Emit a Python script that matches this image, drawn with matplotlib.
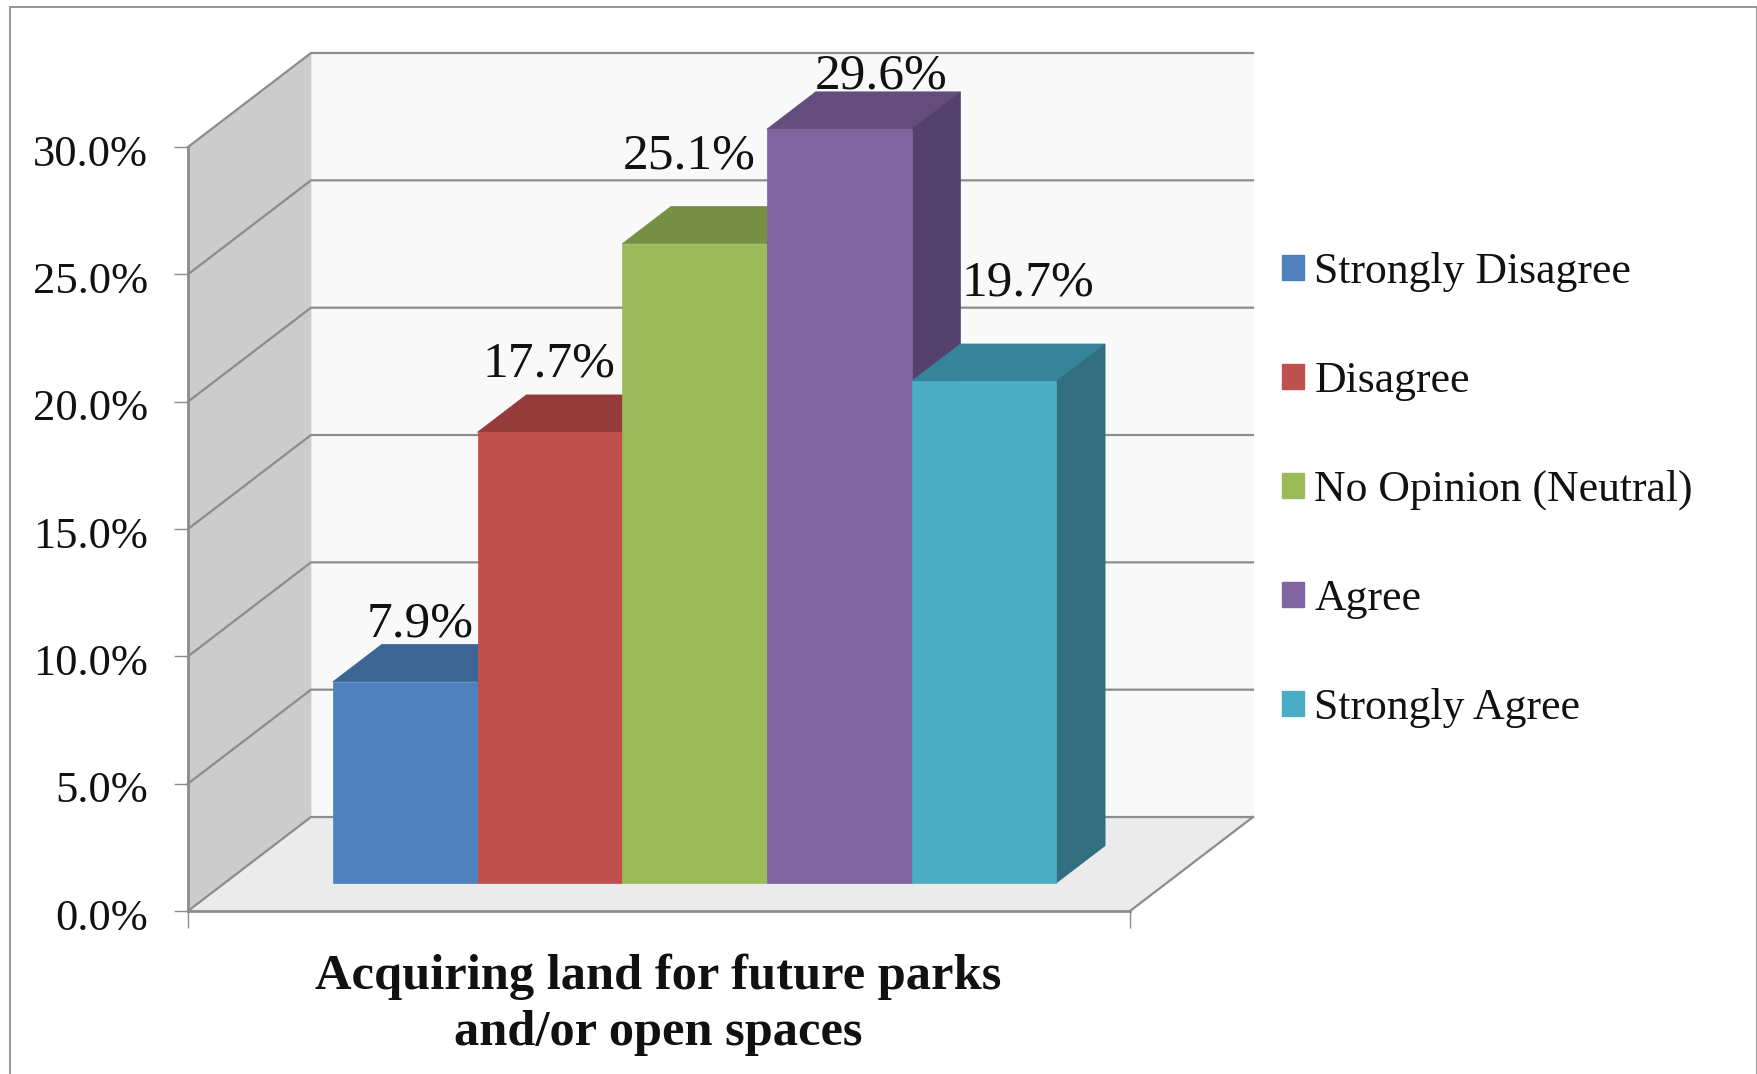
from __future__ import annotations

import matplotlib

matplotlib.use("Agg")

import matplotlib.pyplot as plt
from matplotlib.patches import Patch, Polygon, Rectangle
from matplotlib.transforms import ScaledTranslation


LABELS = ["Strongly Disagree", "Disagree", "No Opinion (Neutral)", "Agree", "Strongly Agree"]
VALUES = [7.9, 17.7, 25.1, 29.6, 19.7]
Y_TICKS = [0, 5, 10, 15, 20, 25, 30]
TITLE = "Acquiring land for future parks\nand/or open spaces"

FRONT_COLORS = ["#4f81bd", "#c0504d", "#9bbb59", "#8064a2", "#4bacc6"]
TOP_COLORS = ["#3d6594", "#953b39", "#778f42", "#634d7d", "#36849a"]
SIDE_COLORS = ["#34557d", "#7f3230", "#657a38", "#54406c", "#306e80"]

# data labels were moved by hand in the original, so offsets differ per bar (pixels)
LABEL_OFFSETS = [(15, 58), (-1, 68), (-5, 88), (42, 53), (44, 98)]

LINE = "#8c8c8c"
FONT = "Liberation Serif"

# oblique projection, in data units per full wall depth
XMIN, XMAX = -0.7476, 5.763
DEPTH_X = 123 / 144.7
DEPTH_Y = 94 / 25.47
BAR_NEAR = 0.298
BAR_FAR = 0.695


def project(x: float, y: float, depth: float) -> tuple[float, float]:
    return x + depth * DEPTH_X, y + depth * DEPTH_Y


def add_face(ax, points, color, zorder) -> None:
    ax.add_patch(Polygon(points, closed=True, facecolor=color, edgecolor=color, linewidth=0.5, clip_on=False, zorder=zorder))


def draw_walls(ax) -> None:
    top = Y_TICKS[-1]
    add_face(ax, [project(XMIN, 0, 1), project(XMAX, 0, 1), project(XMAX, top, 1), project(XMIN, top, 1)], "#f9f9f9", 1)
    add_face(ax, [project(XMIN, 0, 0), project(XMIN, 0, 1), project(XMIN, top, 1), project(XMIN, top, 0)], "#cccccc", 1)
    add_face(ax, [project(XMIN, 0, 0), project(XMAX, 0, 0), project(XMAX, 0, 1), project(XMIN, 0, 1)], "#ebebeb", 1)

    for tick in Y_TICKS:
        corner = project(XMIN, tick, 1)
        far = project(XMAX, tick, 1)
        near = project(XMIN, tick, 0)
        ax.plot([near[0], corner[0], far[0]], [near[1], corner[1], far[1]], color=LINE, linewidth=1.6, clip_on=False, zorder=2)

    floor_near = project(XMAX, 0, 0)
    floor_far = project(XMAX, 0, 1)
    ax.plot([floor_near[0], floor_far[0]], [floor_near[1], floor_far[1]], color=LINE, linewidth=1.6, clip_on=False, zorder=2)


def draw_bars(ax) -> None:
    for i, value in enumerate(VALUES):
        z = 3 + i
        left, right = i, i + 1
        add_face(ax, [project(left, value, BAR_NEAR), project(right, value, BAR_NEAR),
                      project(right, value, BAR_FAR), project(left, value, BAR_FAR)], TOP_COLORS[i], z)
        add_face(ax, [project(right, 0, BAR_NEAR), project(right, 0, BAR_FAR),
                      project(right, value, BAR_FAR), project(right, value, BAR_NEAR)], SIDE_COLORS[i], z)
        add_face(ax, [project(left, 0, BAR_NEAR), project(right, 0, BAR_NEAR),
                      project(right, value, BAR_NEAR), project(left, value, BAR_NEAR)], FRONT_COLORS[i], z)
        ax.annotate(
            f"{value:.1f}%",
            xy=project(i + 0.5, value, BAR_NEAR),
            xytext=LABEL_OFFSETS[i],
            textcoords="offset pixels",
            ha="center",
            va="center",
            fontsize=37,
            family=FONT,
            color="#111111",
            zorder=10,
            annotation_clip=False,
        )


def main() -> None:
    fig = plt.figure(figsize=(17.58, 10.74), dpi=100, facecolor="white")
    fig.add_artist(Rectangle((10 / 1758, -0.05), 1747 / 1758, 1.05 - 6.5 / 1074, transform=fig.transFigure,
                             facecolor="none", edgecolor="#8c8c8c", linewidth=1.3))

    ax = fig.add_axes([188 / 1758, (1074 - 911) / 1074, 942 / 1758, 764 / 1074])
    ax.set_facecolor("none")
    ax.set_xlim(XMIN, XMAX)
    ax.set_ylim(Y_TICKS[0], Y_TICKS[-1])

    draw_walls(ax)
    draw_bars(ax)

    for side in ["top", "right"]:
        ax.spines[side].set_visible(False)
    for side in ["left", "bottom"]:
        ax.spines[side].set_color(LINE)
        ax.spines[side].set_linewidth(2)
        ax.spines[side].set_zorder(2.5)

    ax.set_yticks(Y_TICKS, [f"{t:.1f}%" for t in Y_TICKS], fontsize=32, family=FONT, color="#111111")
    ax.set_xticks([XMIN, XMAX], ["", ""])
    ax.tick_params(axis="y", length=10, width=1, color=LINE, pad=19)
    ax.tick_params(axis="x", length=12, width=1, color=LINE)
    # labels sit a little below their ticks in the original
    nudge = ScaledTranslation(0, -3.2 / 100, fig.dpi_scale_trans)
    for label in ax.get_yticklabels():
        label.set_transform(label.get_transform() + nudge)

    fig.text(658 / 1758, 1 - 1005 / 1074, TITLE, ha="center", va="center", fontsize=36.4, fontweight="bold",
             family=FONT, color="#111111", linespacing=1.3)

    handles = [Patch(facecolor=c, edgecolor=c) for c in FRONT_COLORS]
    legend = fig.legend(
        handles,
        LABELS,
        loc="upper left",
        bbox_to_anchor=(1282 / 1758, 1 - 252 / 1074),
        frameon=False,
        borderpad=0,
        borderaxespad=0,
        handlelength=0.5,
        handleheight=0.5,
        handletextpad=0.24,
        labelspacing=1.576,
        prop={"family": FONT, "size": 31.5},
    )
    for text in legend.get_texts():
        text.set_color("#111111")

    fig.savefig("out.png", dpi=100)
    plt.close(fig)


if __name__ == "__main__":
    main()
